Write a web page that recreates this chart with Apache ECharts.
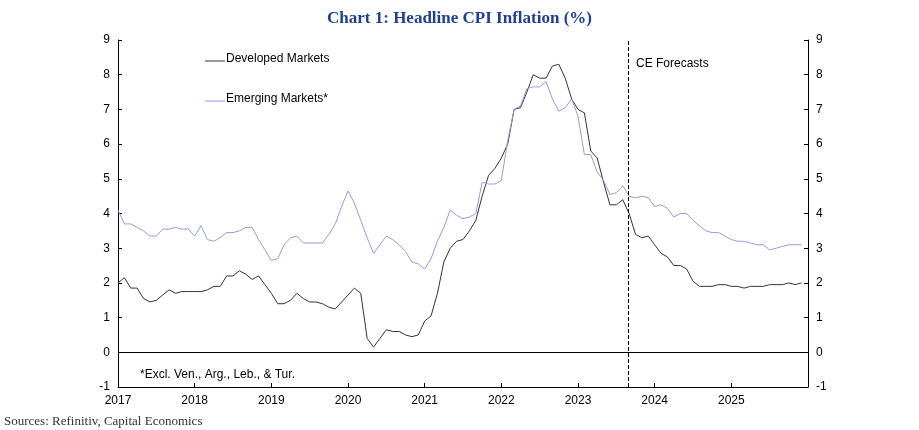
<!DOCTYPE html>
<html><head><meta charset="utf-8">
<script src="https://cdn.jsdelivr.net/npm/echarts@6/dist/echarts.min.js"></script>
<style>body{margin:0}#c{width:919px;height:430px}</style></head>
<body><div id="c"></div>
<script>
const startYear = 2017;
const developed = [
2.0,2.15,1.85,1.85,1.55,1.45,1.5,1.65,1.8,1.7,1.75,1.75,
1.75,1.75,1.8,1.9,1.9,2.2,2.2,2.35,2.25,2.1,2.2,1.95,
1.7,1.4,1.4,1.5,1.7,1.55,1.45,1.45,1.4,1.3,1.25,1.45,
1.65,1.85,1.7,0.4,0.15,0.4,0.65,0.6,0.6,0.5,0.45,0.5,
0.9,1.05,1.7,2.6,3.0,3.2,3.25,3.5,3.8,4.5,5.1,5.3,
5.6,6.0,7.0,7.05,7.5,8.0,7.9,7.9,8.25,8.3,7.9,7.3,
7.0,6.9,5.8,5.6,4.9,4.25,4.25,4.4,4.0,3.4,3.3,3.35,
3.1,2.85,2.75,2.5,2.5,2.4,2.05,1.9,1.9,1.9,1.95,1.95,
1.9,1.9,1.85,1.9,1.9,1.9,1.95,1.95,1.95,2.0,1.95,2.0];
const emerging = [
4.1,3.7,3.7,3.6,3.5,3.35,3.35,3.55,3.55,3.6,3.55,3.55,
3.35,3.65,3.25,3.2,3.3,3.45,3.45,3.5,3.6,3.6,3.25,2.95,
2.65,2.7,3.1,3.3,3.35,3.15,3.15,3.15,3.15,3.4,3.7,4.2,
4.65,4.3,3.8,3.3,2.85,3.1,3.35,3.25,3.1,2.9,2.6,2.55,
2.4,2.7,3.2,3.6,4.1,3.95,3.85,3.9,4.0,4.9,4.85,4.85,
4.95,6.1,7.0,7.1,7.6,7.65,7.65,7.8,7.3,6.95,7.05,7.3,
6.8,5.7,5.7,5.2,4.95,4.55,4.6,4.8,4.5,4.45,4.5,4.45,
4.2,4.25,4.15,3.9,4.0,4.0,3.8,3.65,3.5,3.45,3.45,3.35,
3.25,3.2,3.2,3.15,3.1,3.1,2.95,3.0,3.05,3.1,3.1,3.1];
const forecastStart = 2023.65;
const toPts = a => a.map((v,i)=>[startYear + i/12, v]);
const ax = {color:'#000',fontFamily:'Arial',fontSize:12};
const yAx = pos => ({type:'value',position:pos,min:-1,max:9,interval:1,
  axisLine:{show:true,lineStyle:{color:'#000'}},axisTick:{show:true,inside:true,length:4},
  axisLabel:Object.assign({},ax),splitLine:{show:false}});
const chart = echarts.init(document.getElementById('c'));
chart.setOption({
  animation:false,
  title:{text:'Chart 1: Headline CPI Inflation (%)',left:'center',top:5,
    textStyle:{fontFamily:'"Liberation Serif", serif',fontWeight:'bold',fontSize:17,color:'#1f3f8f'}},
  grid:{left:118,right:111,top:40,bottom:43},
  xAxis:{type:'value',min:2017,max:2026,interval:1,
    axisLine:{onZero:false,lineStyle:{color:'#000'}},axisTick:{inside:true,length:4},
    axisLabel:Object.assign({formatter:v=>v<2026?String(v):''},ax),splitLine:{show:false}},
  yAxis:[yAx('left'),yAx('right')],
  graphic:[
    {type:'line',shape:{x1:205,y1:61,x2:225,y2:61},style:{stroke:'#333',lineWidth:1}},
    {type:'text',left:226,top:53,style:{text:'Developed Markets',font:'12px Arial',fill:'#000'}},
    {type:'line',shape:{x1:205,y1:101,x2:225,y2:101},style:{stroke:'#9999dd',lineWidth:1}},
    {type:'text',left:226,top:93,style:{text:'Emerging Markets*',font:'12px Arial',fill:'#000'}},
    {type:'text',left:636,top:58,style:{text:'CE Forecasts',font:'12px Arial',fill:'#000'}},
    {type:'text',left:140,top:369,style:{text:'*Excl. Ven., Arg., Leb., & Tur.',font:'12px Arial',fill:'#000'}},
    {type:'text',left:4,top:415,style:{text:'Sources: Refinitiv, Capital Economics',font:'13px "Liberation Serif", serif',fill:'#333'}}
  ],
  series:[
    {type:'line',data:toPts(developed),symbol:'none',lineStyle:{color:'#333',width:1},
     markLine:{symbol:'none',silent:true,label:{show:false},
       data:[{xAxis:forecastStart,lineStyle:{color:'#000',type:'dashed',width:1}},
             {yAxis:0,lineStyle:{color:'#000',type:'solid',width:1}}]}},
    {type:'line',data:toPts(emerging),symbol:'none',lineStyle:{color:'#9999dd',width:1}}
  ]
});
</script></body></html>
